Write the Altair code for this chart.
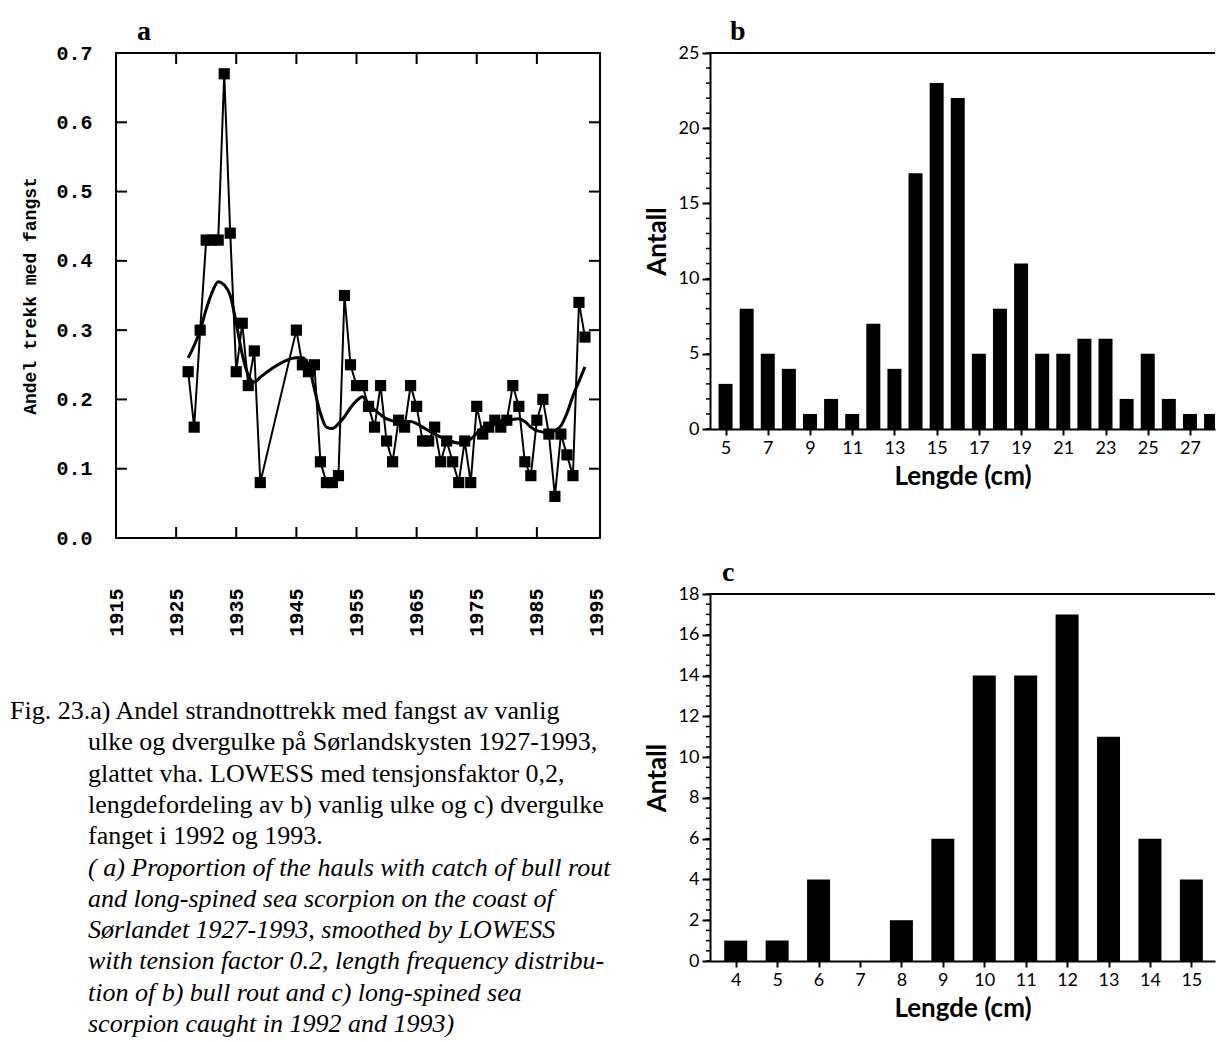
import altair as alt
import pandas as pd

# ---------------- data ----------------
years = [1927, 1928, 1929, 1930, 1931, 1932, 1933, 1934, 1935, 1936, 1937, 1938, 1939,
         1945, 1946, 1947, 1948, 1949, 1950, 1951, 1952, 1953, 1954, 1955, 1956, 1957,
         1958, 1959, 1960, 1961, 1962, 1963, 1964, 1965, 1966, 1967, 1968, 1969, 1970,
         1971, 1972, 1973, 1974, 1975, 1976, 1977, 1978, 1979, 1980, 1981, 1982, 1983,
         1984, 1985, 1986, 1987, 1988, 1989, 1990, 1991, 1992, 1993]
share = [0.24, 0.16, 0.30, 0.43, 0.43, 0.43, 0.67, 0.44, 0.24, 0.31, 0.22, 0.27, 0.08,
         0.30, 0.25, 0.24, 0.25, 0.11, 0.08, 0.08, 0.09, 0.35, 0.25, 0.22, 0.22, 0.19,
         0.16, 0.22, 0.14, 0.11, 0.17, 0.16, 0.22, 0.19, 0.14, 0.14, 0.16, 0.11, 0.14,
         0.11, 0.08, 0.14, 0.08, 0.19, 0.15, 0.16, 0.17, 0.16, 0.17, 0.22, 0.19, 0.11,
         0.09, 0.17, 0.20, 0.15, 0.06, 0.15, 0.12, 0.09, 0.34, 0.29]

smooth_years = [1927, 1929, 1930, 1931, 1932, 1933, 1934, 1935, 1936, 1937, 1938, 1939,
                1941, 1943, 1945, 1946, 1947, 1948, 1949, 1950, 1951, 1952, 1953, 1954,
                1955, 1956, 1957, 1958, 1959, 1960, 1962, 1964, 1965, 1966, 1968, 1970,
                1972, 1974, 1976, 1978, 1980, 1982, 1983, 1984, 1985, 1987, 1988, 1989,
                1990, 1991, 1992, 1993]
smooth_vals = [0.26, 0.30, 0.33, 0.355, 0.37, 0.365, 0.35, 0.31, 0.265, 0.235, 0.225, 0.232,
               0.245, 0.255, 0.26, 0.26, 0.25, 0.215, 0.18, 0.16, 0.158, 0.165, 0.175, 0.188,
               0.198, 0.204, 0.192, 0.185, 0.178, 0.172, 0.168, 0.168, 0.165, 0.16, 0.15, 0.142,
               0.137, 0.143, 0.16, 0.168, 0.17, 0.172, 0.168, 0.16, 0.155, 0.152, 0.155, 0.162,
               0.18, 0.205, 0.226, 0.247]

b_len = list(range(5, 29))
b_cnt = [3, 8, 5, 4, 1, 2, 1, 7, 4, 17, 23, 22, 5, 8, 11, 5, 5, 6, 6, 2, 5, 2, 1, 1]

c_len = list(range(4, 16))
c_cnt = [1, 1, 4, 0, 2, 6, 14, 14, 17, 11, 6, 4]

a_year_labels = [1915, 1925, 1935, 1945, 1955, 1965, 1975, 1985, 1995]
a_year_ticks = [1925, 1935, 1945, 1955, 1965, 1975, 1985]
a_val_labels = [0.0, 0.1, 0.2, 0.3, 0.4, 0.5, 0.6, 0.7]
a_val_ticks = [0.1, 0.2, 0.3, 0.4, 0.5, 0.6]
b_y_labels = [0, 5, 10, 15, 20, 25]
b_y_minor = list(range(0, 26))
b_x_labels = [5, 7, 9, 11, 13, 15, 17, 19, 21, 23, 25, 27]
c_y_labels = [0, 2, 4, 6, 8, 10, 12, 14, 16, 18]
c_y_minor = [i / 2 for i in range(0, 37)]
c_x_labels = list(range(4, 16))

caption_lines = [
    "Fig. 23.a) Andel strandnottrekk med fangst av vanlig",
    "ulke og dvergulke på Sørlandskysten 1927-1993,",
    "glattet vha. LOWESS med tensjonsfaktor 0,2,",
    "lengdefordeling av b) vanlig ulke og c) dvergulke",
    "fanget i  1992 og 1993.",
    "( a) Proportion of the hauls with catch of bull rout",
    "and long-spined sea scorpion on the coast of",
    "Sørlandet 1927-1993, smoothed by LOWESS",
    "with tension factor 0.2, length frequency distribu-",
    "tion of b) bull rout  and c) long-spined sea",
    "scorpion caught in 1992 and 1993)",
]
caption_italic = [False] * 5 + [True] * 6

# ---------------- styling ----------------
MONO = "Liberation Mono"
SERIF = "Liberation Serif"
SANS = "Lato"

W_A, H_A = 484, 485
W_B, H_B = 505, 376
W_C, H_C = 505, 367
H_CAP = 445
TICK_IN = 11
CAP_FS = 26

df_a = pd.DataFrame({"year": years, "share": share})
df_s = pd.DataFrame({"year": smooth_years, "val": smooth_vals})
df_xt = pd.DataFrame({"year": a_year_ticks})
df_yt = pd.DataFrame({"v": a_val_ticks})

xa = alt.Scale(domain=[1915, 1995.5], nice=False, zero=False)
ya = alt.Scale(domain=[0, 0.7], nice=False, zero=True)

x_axis_a = alt.Axis(values=a_year_labels, format="d", labelAngle=270, labelPadding=50,
                    ticks=False, domain=False, grid=False, title=None,
                    labelFont=MONO, labelFontWeight="bold", labelFontSize=20,
                    labelColor="black", labelOverlap=False)
y_axis_a = alt.Axis(values=a_val_labels, format=".1f", ticks=False, domain=False, grid=False,
                    labelFont=MONO, labelFontWeight="bold", labelFontSize=20,
                    labelColor="black", labelPadding=24,
                    title="Andel trekk med fangst", titleFont=MONO, titleFontWeight="bold",
                    titleFontSize=18, titleColor="black", titlePadding=16)

XA = dict(scale=xa, axis=x_axis_a)
YA = dict(scale=ya, axis=y_axis_a)


def letter_layer(letter, dx):
    return alt.Chart(pd.DataFrame({"t": [letter]})).mark_text(
        align="left", baseline="alphabetic", font=SERIF, fontSize=28, fontWeight="bold",
        color="black").encode(text="t:N", x=alt.value(dx), y=alt.value(-13))


raw_line = alt.Chart(df_a).mark_line(color="black", strokeWidth=2).encode(
    x=alt.X("year:Q", **XA), y=alt.Y("share:Q", **YA))
raw_pts = alt.Chart(df_a).mark_point(shape="square", filled=True, size=125,
                                     color="black", opacity=1).encode(
    x=alt.X("year:Q", **XA), y=alt.Y("share:Q", **YA))
smooth = alt.Chart(df_s).mark_line(color="black", strokeWidth=3,
                                   interpolate="monotone").encode(
    x=alt.X("year:Q", **XA), y=alt.Y("val:Q", **YA))
tick_left = alt.Chart(df_yt).mark_rule(color="black", strokeWidth=2).encode(
    y=alt.Y("v:Q", **YA), x=alt.value(0), x2=alt.value(TICK_IN))
tick_right = alt.Chart(df_yt).mark_rule(color="black", strokeWidth=2).encode(
    y=alt.Y("v:Q", **YA), x=alt.value(W_A - TICK_IN), x2=alt.value(W_A))
tick_top = alt.Chart(df_xt).mark_rule(color="black", strokeWidth=2).encode(
    x=alt.X("year:Q", **XA), y=alt.value(0), y2=alt.value(TICK_IN))
tick_bot = alt.Chart(df_xt).mark_rule(color="black", strokeWidth=2).encode(
    x=alt.X("year:Q", **XA), y=alt.value(H_A - TICK_IN), y2=alt.value(H_A))

panel_a = alt.layer(raw_line, smooth, raw_pts, tick_left, tick_right, tick_top, tick_bot,
                    letter_layer("a", 21)).properties(
    width=W_A, height=H_A,
    view=alt.ViewBackground(stroke="black", strokeWidth=2),
)

# ---------------- caption ----------------
n_lines = len(caption_lines)
line_step = 31.3
first_off = 117.0
d0 = -first_off / line_step
d1 = d0 + H_CAP / line_step
df_cap = pd.DataFrame({"line": list(range(n_lines)),
                       "text": caption_lines, "italic": caption_italic})
cap_y = alt.Y("line:Q", axis=None, scale=alt.Scale(domain=[d0, d1], reverse=True, nice=False,
                                                   zero=False))
cap_first = alt.Chart(df_cap).transform_filter("datum.line == 0").mark_text(
    align="left", baseline="middle", font=SERIF, fontSize=CAP_FS, color="black").encode(
    x=alt.value(-106), y=cap_y, text="text:N")
cap_norm = alt.Chart(df_cap).transform_filter("datum.line > 0 && !datum.italic").mark_text(
    align="left", baseline="middle", font=SERIF, fontSize=CAP_FS, color="black").encode(
    x=alt.value(-28), y=cap_y, text="text:N")
cap_ital = alt.Chart(df_cap).transform_filter("datum.italic").mark_text(
    align="left", baseline="middle", font=SERIF, fontSize=CAP_FS, fontStyle="italic",
    color="black").encode(
    x=alt.value(-28), y=cap_y, text="text:N")
caption = alt.layer(cap_first, cap_norm, cap_ital).properties(
    width=W_A, height=H_CAP, view=alt.ViewBackground(stroke=None))


# ---------------- histogram panels ----------------
def hist_panel(lens, cnts, x_dom, y_max, y_labels, y_minor, x_labels, bar_w, w, h, letter, dx):
    df = pd.DataFrame({"len": lens, "n": cnts})
    dminor = pd.DataFrame({"v": y_minor})
    xs = alt.Scale(domain=x_dom, nice=False, zero=False)
    ys = alt.Scale(domain=[0, y_max], nice=False)
    y_axis = alt.Axis(
        values=y_labels, format="d", tickSize=8, tickWidth=2, tickColor="black",
        domainColor="black", domainWidth=2, grid=False,
        labelFont=SANS, labelFontSize=18, labelColor="black", labelPadding=3,
        title="Antall", titleFont=SANS, titleFontWeight="bold", titleFontSize=26,
        titleColor="black", titlePadding=8)
    x_axis = alt.Axis(
        values=x_labels, format="d", tickSize=6, tickWidth=2, tickColor="black",
        domainColor="black", domainWidth=2, grid=False, labelAngle=0,
        labelFont=SANS, labelFontSize=18, labelColor="black", labelPadding=4,
        title="Lengde (cm)", titleFont=SANS, titleFontWeight="bold", titleFontSize=26,
        titleColor="black", titlePadding=6)
    bars = alt.Chart(df).mark_bar(color="black", size=bar_w, clip=True).encode(
        x=alt.X("len:Q", scale=xs, axis=x_axis),
        y=alt.Y("n:Q", scale=ys, axis=y_axis),
    )
    top_line = alt.Chart(df).mark_rule(color="black", strokeWidth=2).encode(
        x=alt.value(0), x2=alt.value(w), y=alt.value(0))
    minor = alt.Chart(dminor).mark_rule(color="black", strokeWidth=1.5).encode(
        y=alt.Y("v:Q", scale=ys, axis=y_axis), x=alt.value(-4), x2=alt.value(0))
    return alt.layer(bars, top_line, minor, letter_layer(letter, dx)).properties(
        width=w, height=h, view=alt.ViewBackground(stroke=None))


panel_b = hist_panel(b_len, b_cnt, [4.5, 27.95], 25, b_y_labels, b_y_minor, b_x_labels,
                     14, W_B, H_B, "b", 20)
panel_c = hist_panel(c_len, c_cnt, [3.5, 15.45], 18, c_y_labels, c_y_minor, c_x_labels,
                     23, W_C, H_C, "c", 12)

chart = alt.concat(panel_a, panel_b, caption, panel_c, columns=2, bounds="flush",
                   align="each", spacing={"row": 56, "column": 110}).properties(
    padding={"left": 10, "top": 17, "right": 0, "bottom": 0},
    background="white",
).configure_view(stroke=None)

chart.save("out.html", embed_options={"renderer": "svg", "actions": False})
